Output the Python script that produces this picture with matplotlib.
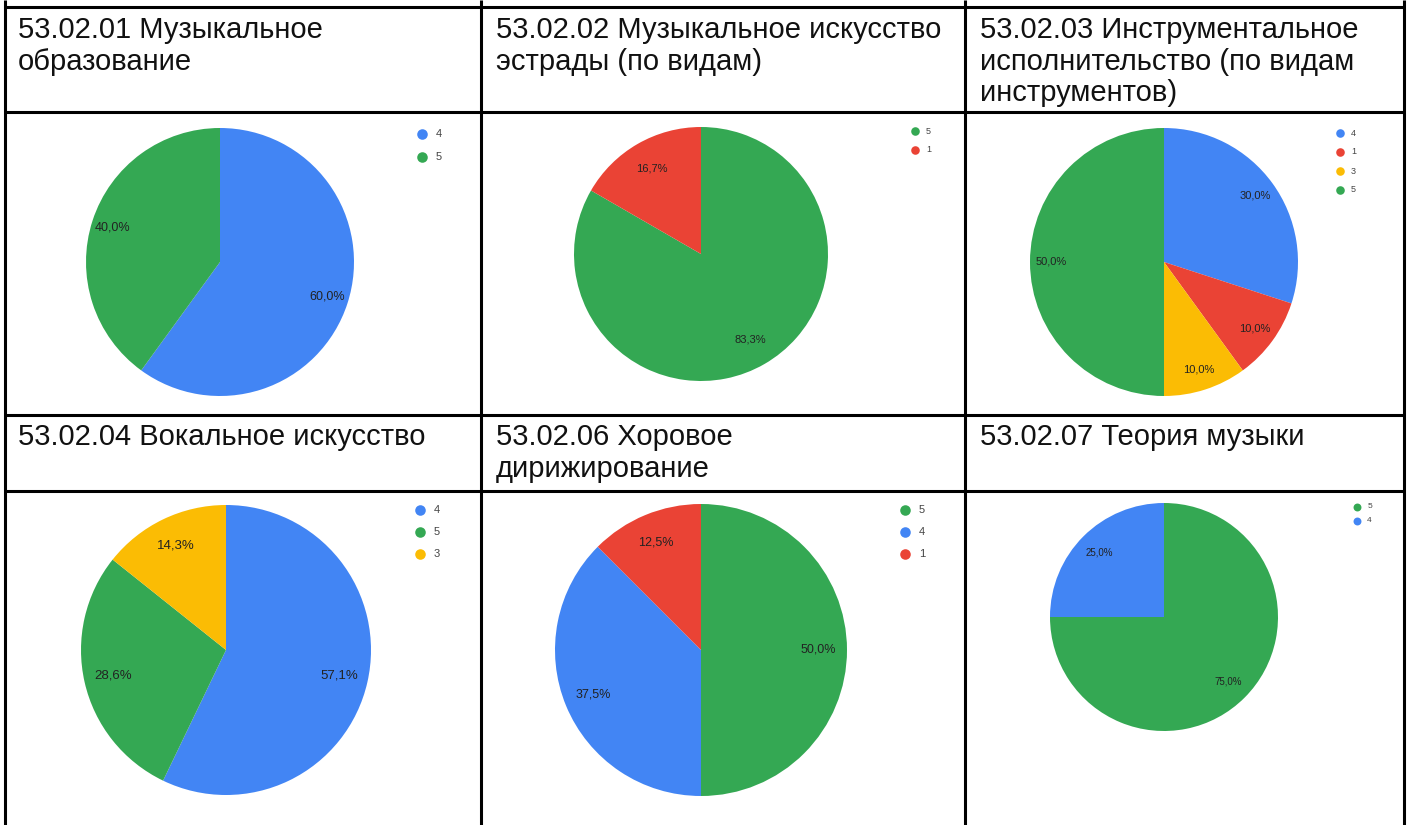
import matplotlib
matplotlib.use("Agg")
import matplotlib.pyplot as plt

plt.rcParams["font.family"] = ["Liberation Sans", "DejaVu Sans"]

W, H = 1411, 825

# ---- data -----------------------------------------------------------------
titles = [
    "53.02.01 Музыкальное\nобразование",
    "53.02.02 Музыкальное искусство\nэстрады (по видам)",
    "53.02.03 Инструментальное\nисполнительство (по видам\nинструментов)",
    "53.02.04 Вокальное искусство",
    "53.02.06 Хоровое\nдирижирование",
    "53.02.07 Теория музыки",
]
pie_labels = [
    ["4", "5"],
    ["5", "1"],
    ["4", "1", "3", "5"],
    ["4", "5", "3"],
    ["5", "4", "1"],
    ["5", "4"],
]
pie_counts = [
    [3, 2],
    [5, 1],
    [3, 1, 1, 5],
    [4, 2, 1],
    [4, 3, 1],
    [3, 1],
]

grade_colors = {"4": "#4285F4", "5": "#34A853", "1": "#EA4335", "3": "#FBBC04"}

# ---- layout (pixels) -------------------------------------------------------
col_x = [4.5, 481, 964.5, 1403.5]
row_y = [6.5, 111.5, 414.5, 490.5]
# pie center x, center y, radius, label size, legend (x, y, size, row step), pct distance
pie_geom = [
    (220, 262, 134, 9, (422, 134, 8, 23), 0.84),
    (701, 254, 127, 8, (915, 131, 6.5, 19), 0.78),
    (1164, 262, 134, 8, (1340, 133, 6.5, 19), 0.84),
    (226, 650, 145, 9.5, (420, 510, 8, 22), 0.8),
    (701, 650, 146, 9, (905, 510, 8, 22), 0.8),
    (1164, 617, 114, 7, (1357, 507, 6, 14), 0.8),
]
title_pos = [(18, 16), (496, 16), (980, 16), (18, 423), (496, 423), (980, 423)]

fig = plt.figure(figsize=(W / 100, H / 100), dpi=100)
base = fig.add_axes([0, 0, 1, 1])
base.set_xlim(0, W)
base.set_ylim(H, 0)
base.axis("off")

lw = 2.2
for x in col_x:
    base.plot([x, x], [0, H], color="black", lw=lw, solid_capstyle="butt")
for y in row_y:
    base.plot([col_x[0], col_x[-1]], [y, y], color="black", lw=lw, solid_capstyle="butt")

for (tx, ty), title in zip(title_pos, titles):
    base.text(tx, ty, title, fontsize=21, va="top", ha="left",
              color="#111111", linespacing=1.17)

for geom, labels, counts in zip(pie_geom, pie_labels, pie_counts):
    cx, cy, r, fs, (lx, ly, lfs, lstep), pdist = geom
    ax = fig.add_axes([(cx - r) / W, 1 - (cy + r) / H, 2 * r / W, 2 * r / H])
    colors = [grade_colors[g] for g in labels]
    ax.pie(
        counts, colors=colors, startangle=90, counterclock=False,
        autopct=lambda p: f"{p:.1f}%".replace(".", ","),
        pctdistance=pdist, radius=1.0,
        wedgeprops=dict(linewidth=0, antialiased=True),
        textprops=dict(fontsize=fs, color="#222222"),
    )
    ax.set_xlim(-1, 1)
    ax.set_ylim(-1, 1)
    ax.set_aspect("equal")
    ax.axis("off")

    for i, g in enumerate(labels):
        yy = ly + i * lstep
        base.plot(lx, yy, "o", color=grade_colors[g], markersize=lfs * 0.95,
                  markeredgewidth=0)
        base.text(lx + lfs * 1.7, yy, g, fontsize=lfs, color="#444444",
                  va="center", ha="left")

fig.savefig("out.png", dpi=100)
